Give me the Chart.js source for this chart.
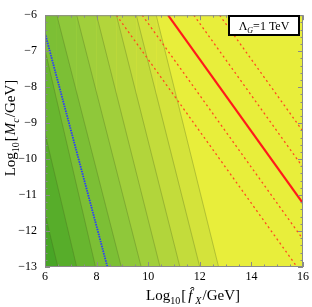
<!DOCTYPE html>
<html><head><meta charset="utf-8">
<script src="https://cdn.jsdelivr.net/npm/chart.js@4.4.0/dist/chart.umd.min.js"></script>
<style>html,body{margin:0;padding:0;background:#fff;}#wrap{width:312px;height:307px;}</style>
</head><body><div id="wrap"><canvas id="c" width="312" height="307"></canvas></div>
<script>
// ---- data ----
const xTicks = [6, 8, 10, 12, 14, 16];
const yTicks = [-13, -12, -11, -10, -9, -8, -7, -6];
// filled contours: x where each contour line meets the top edge (y=-6) and the bottom edge (y=-13)
const contourTopX    = [4.15, 4.92, 5.69, 6.46, 7.23, 8.00, 8.77, 9.54, 10.31];
const contourBottomX = [6.50, 7.23, 7.96, 8.96, 9.73, 10.46, 11.23, 12.00, 12.73];
const bandColors = ['#48a526', '#57ad2a', '#68b62f', '#7cbf35', '#8fc83a', '#a1cf3b', '#b2d53b', '#c3dc3b', '#d4e33b'];
const yellowBand = '#e8ee3b';
// red solid line (endpoints)
const redSolidX = [10.77, 16];
const redSolidY = [-6, -11.23];
// red dashed lines (endpoints)
const redDashedX = [[8.77, 15.77], [9.77, 16], [11.77, 16], [12.77, 16]];
const redDashedY = [[-6, -13], [-6, -12.23], [-6, -10.23], [-6, -9.23]];
// blue dotted line (endpoints)
const blueX = [6.0, 8.42];
const blueY = [-6.5, -13];
const legendText = ['Λ', 'G', '=1 TeV'];

const SERIF = '"Liberation Serif","DejaVu Serif",serif';
const pts = (xs, ys) => xs.map((x, i) => ({x: x, y: ys[i]}));

const datasets = [];
datasets.push({data: pts(redSolidX, redSolidY), borderColor: '#ff1a1a', borderWidth: 2.2, order: 0});
redDashedX.forEach((xs, k) => datasets.push({data: pts(xs, redDashedY[k]), borderColor: '#ff4a1f', borderWidth: 1.3, borderDash: [2, 3], order: 0}));
datasets.push({data: pts(blueX, blueY), borderColor: '#2a3cff', borderWidth: 1.8, borderDash: [1.5, 1], order: 0});
const lineCol = 'rgba(70,90,30,0.4)';
contourTopX.forEach((tx, i) => {
  datasets.push({
    data: [{x: 0, y: -6}, {x: tx, y: -6}, {x: contourBottomX[i], y: -13}],
    borderColor: lineCol, borderWidth: 0.7, backgroundColor: bandColors[i],
    fill: 'start', order: i + 1,
    segment: {borderColor: c => c.p0DataIndex === 0 ? 'rgba(0,0,0,0)' : lineCol}
  });
});

const bgPlugin = {
  id: 'bg',
  beforeDatasetsDraw(chart) {
    const a = chart.chartArea, ctx = chart.ctx;
    ctx.save(); ctx.fillStyle = yellowBand; ctx.fillRect(a.left, a.top, a.right - a.left, a.bottom - a.top); ctx.restore();
  }
};

function drawParts(ctx, parts, x, y) {
  let cx = x;
  parts.forEach(p => {
    ctx.font = (p[2] ? 'italic ' : '') + p[1] + 'px ' + SERIF;
    ctx.fillText(p[0], cx, y + (p[3] || 0));
    cx += ctx.measureText(p[0]).width + (p[4] || 0);
  });
  return cx - x;
}
function partsWidth(ctx, parts) {
  let w = 0;
  parts.forEach(p => { ctx.font = (p[2] ? 'italic ' : '') + p[1] + 'px ' + SERIF; w += ctx.measureText(p[0]).width + (p[4] || 0); });
  return w;
}

const framePlugin = {
  id: 'frame',
  afterDatasetsDraw(chart) {
    const a = chart.chartArea, ctx = chart.ctx, xs = chart.scales.x, ys = chart.scales.y;
    ctx.save();
    ctx.strokeStyle = '#8a8a8a'; ctx.lineWidth = 1;
    ctx.strokeRect(a.left + 0.5, a.top + 0.5, a.right - a.left - 1, a.bottom - a.top - 1);
    ctx.beginPath();
    for (let v = 6; v <= 16.001; v += 0.5) {
      const major = Math.abs(v / 2 - Math.round(v / 2)) < 1e-6;
      const L = major ? 5 : 2.5, px = Math.round(xs.getPixelForValue(v)) + 0.5;
      ctx.moveTo(px, a.bottom); ctx.lineTo(px, a.bottom - L);
      ctx.moveTo(px, a.top); ctx.lineTo(px, a.top + L);
    }
    for (let v = -13; v <= -5.999; v += 0.2) {
      const major = Math.abs(v - Math.round(v)) < 1e-6;
      const L = major ? 5 : 2.5, py = Math.round(ys.getPixelForValue(v)) + 0.5;
      ctx.moveTo(a.left, py); ctx.lineTo(a.left + L, py);
      ctx.moveTo(a.right, py); ctx.lineTo(a.right - L, py);
    }
    ctx.stroke();
    const bx = 229, by = 16, bw = 70, bh = 19;
    ctx.fillStyle = '#fff'; ctx.fillRect(bx, by, bw, bh);
    ctx.strokeStyle = '#000'; ctx.lineWidth = 2; ctx.strokeRect(bx, by, bw, bh);
    ctx.fillStyle = '#000'; ctx.textBaseline = 'alphabetic'; ctx.textAlign = 'left';
    const lp = [[legendText[0], 12, false, 0], [legendText[1], 8, true, 2.5], [legendText[2], 12, false, 0]];
    const lw = partsWidth(ctx, lp);
    drawParts(ctx, lp, bx + (bw - lw) / 2, by + 14);
    const xp = [['Log', 15, false, 0], ['10', 10, false, 3.5, 1], ['[', 15, false, 0, 2], ['f\u0302', 15, true, 0, 3], ['X', 10, true, 3.5, 1], ['/GeV]', 15, false, 0]];
    const xw = partsWidth(ctx, xp);
    drawParts(ctx, xp, 193 - xw / 2, 300);
    ctx.translate(15, 128); ctx.rotate(-Math.PI / 2);
    const yp = [['Log', 15, false, 0], ['10', 10, false, 3.5, 1], ['[', 15, false, 0, 1], ['M', 15, true, 0], ['c', 10, true, 3.5, 1], ['/GeV]', 15, false, 0]];
    const yw = partsWidth(ctx, yp);
    drawParts(ctx, yp, -yw / 2, 0);
    ctx.restore();
  }
};

new Chart(document.getElementById('c'), {
  type: 'scatter',
  data: {datasets: datasets},
  options: {
    responsive: false, animation: false, devicePixelRatio: 1,
    showLine: true,
    elements: {point: {radius: 0, hoverRadius: 0}, line: {tension: 0}},
    layout: {padding: {left: 0, right: 7, top: 7, bottom: 0}},
    plugins: {legend: {display: false}, tooltip: {enabled: false}},
    scales: {
      x: {
        type: 'linear', min: 6, max: 16,
        afterBuildTicks: s => { s.ticks = xTicks.map(v => ({value: v})); },
        afterFit: s => { s.height = 40; },
        grid: {display: false, drawTicks: false}, border: {display: false},
        ticks: {autoSkip: false, maxRotation: 0, padding: 3, color: '#000', font: {family: SERIF, size: 12}}
      },
      y: {
        type: 'linear', min: -13, max: -6,
        afterBuildTicks: s => { s.ticks = yTicks.map(v => ({value: v})); },
        afterFit: s => { s.width = 45; },
        grid: {display: false, drawTicks: false}, border: {display: false},
        ticks: {autoSkip: false, padding: 8, color: '#000', font: {family: SERIF, size: 12},
          callback: v => String(v).replace('-', '\u2212')}
      }
    }
  },
  plugins: [bgPlugin, framePlugin]
});
</script></body></html>
